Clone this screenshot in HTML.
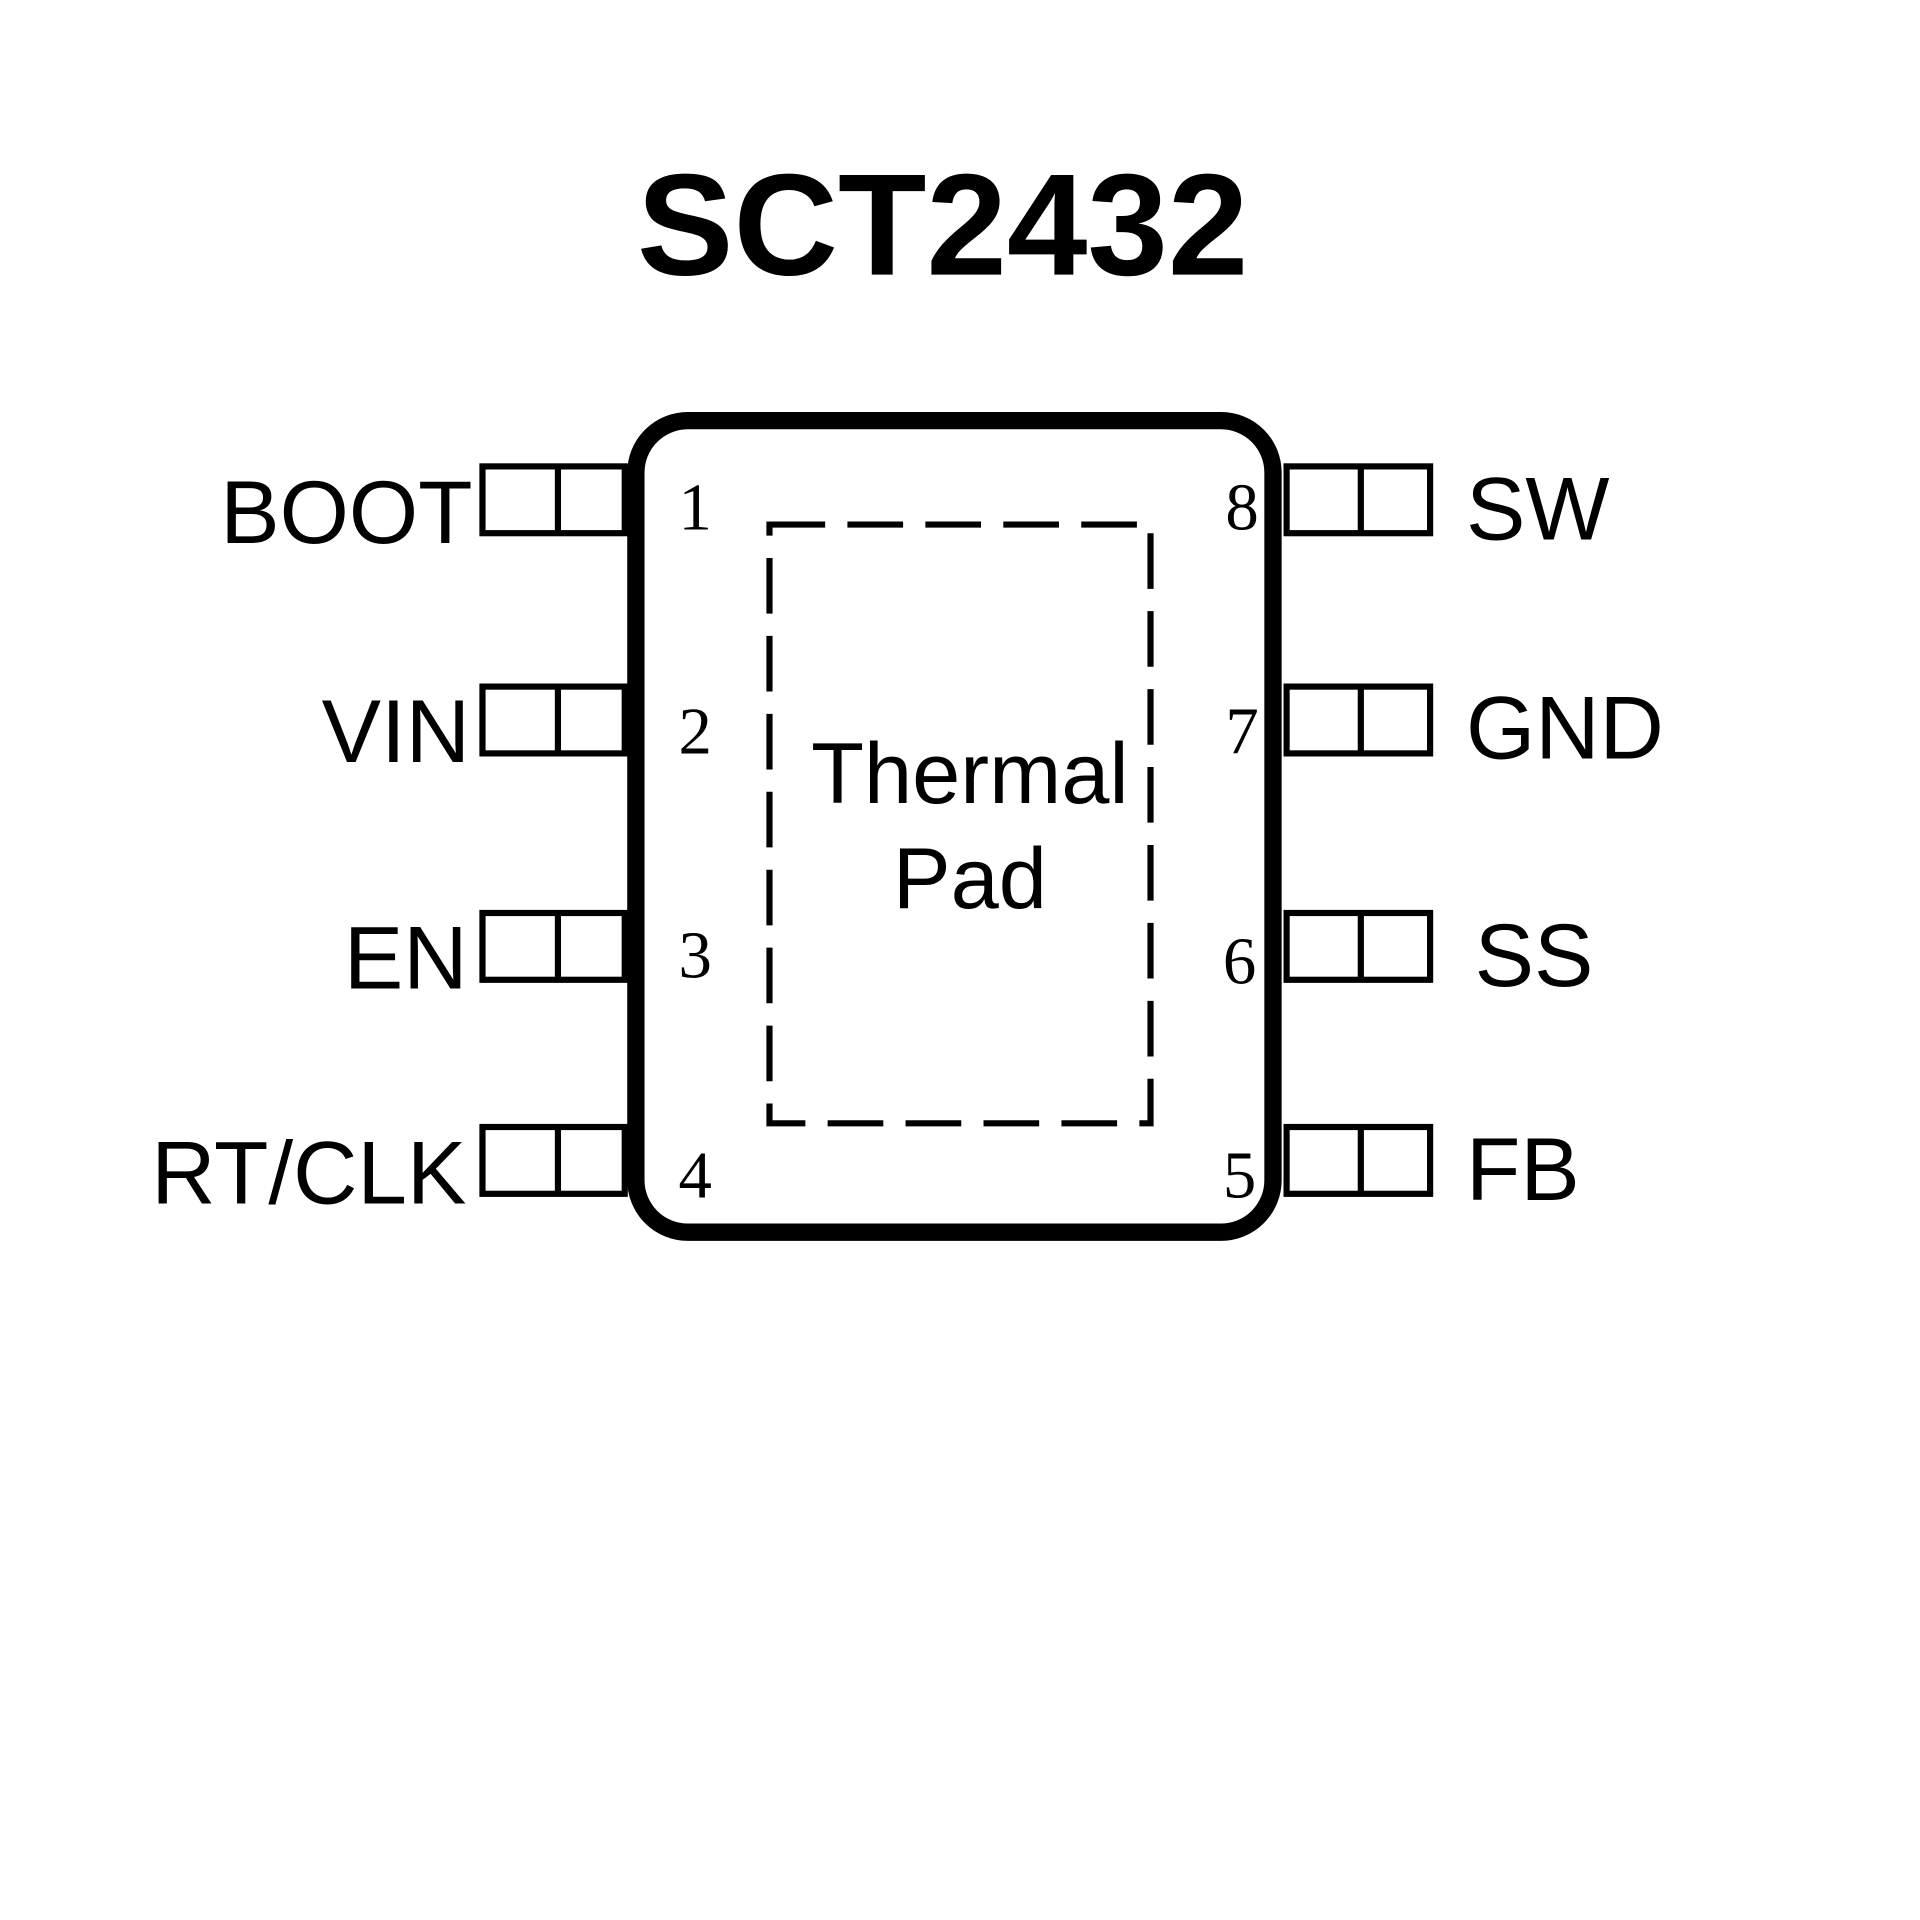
<!DOCTYPE html>
<html><head><meta charset="utf-8"><style>
html,body{margin:0;padding:0;background:#fff;}
svg{display:block;}
</style></head><body>
<svg width="1920" height="1920" viewBox="0 0 1552 1552" xmlns="http://www.w3.org/2000/svg">
<rect width="1552" height="1552" fill="#fff"/>
<g transform="translate(-7,-4)">
<text x="769" y="226" text-anchor="middle" font-family="Liberation Sans, sans-serif" font-weight="bold" font-size="117">SCT2432</text>
<rect x="521" y="344" width="515" height="656" rx="42" fill="none" stroke="#000" stroke-width="14"/>
<g fill="none" stroke="#000" stroke-width="5">
<rect x="397" y="381" width="115" height="54"/><line x1="458" y1="381" x2="458" y2="435"/>
<rect x="397" y="559" width="115" height="54"/><line x1="458" y1="559" x2="458" y2="613"/>
<rect x="397" y="742" width="115" height="54"/><line x1="458" y1="742" x2="458" y2="796"/>
<rect x="397" y="915" width="115" height="54"/><line x1="458" y1="915" x2="458" y2="969"/>
<rect x="1047" y="381" width="116" height="54"/><line x1="1107" y1="381" x2="1107" y2="435"/>
<rect x="1047" y="559" width="116" height="54"/><line x1="1107" y1="559" x2="1107" y2="613"/>
<rect x="1047" y="742" width="116" height="54"/><line x1="1107" y1="742" x2="1107" y2="796"/>
<rect x="1047" y="915" width="116" height="54"/><line x1="1107" y1="915" x2="1107" y2="969"/>
<rect x="636" y="431" width="308" height="484" stroke-dasharray="45 18" transform="translate(-7,-3)"/>
</g>
<g font-family="Liberation Sans, sans-serif" font-size="72" text-anchor="end">
<text x="389" y="443">BOOT</text>
<text x="387" y="620">VIN</text>
<text x="385" y="803">EN</text>
<text x="384" y="977">RT/CLK</text>
</g>
<g font-family="Liberation Sans, sans-serif" font-size="72">
<text x="1192" y="440">SW</text>
<text x="1192" y="617">GND</text>
<text x="1199" y="801">SS</text>
<text x="1192" y="974">FB</text>
</g>
<g font-family="Liberation Serif, serif" font-size="54" text-anchor="middle">
<text x="569" y="432">1</text>
<text x="569" y="613">2</text>
<text x="569" y="794">3</text>
<text x="569" y="972">4</text>
<text x="1011" y="432">8</text>
<text x="1011" y="613">7</text>
<text x="1009" y="799">6</text>
<text x="1009" y="972">5</text>
</g>
<g font-family="Liberation Sans, sans-serif" font-size="70" text-anchor="middle">
<text x="791" y="653">Thermal</text>
<text x="791" y="738">Pad</text>
</g>
</g>
</svg>
</body></html>
